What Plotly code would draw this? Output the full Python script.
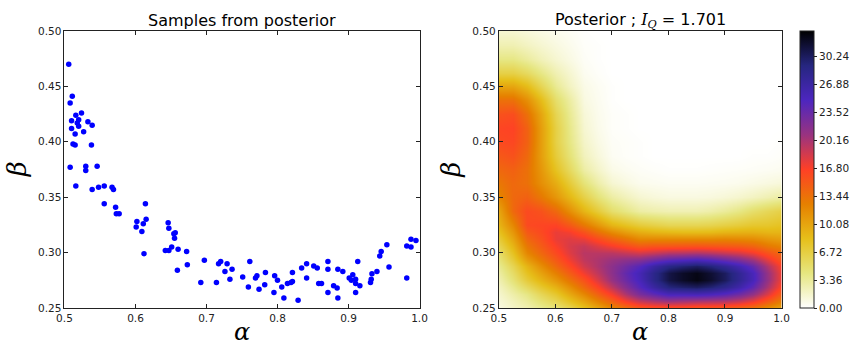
import plotly.graph_objects as go

# ---------------- data ----------------
alpha_samples = [0.506, 0.511, 0.508, 0.516, 0.524, 0.510, 0.520, 0.518, 0.520, 0.533, 0.539, 0.510, 0.527, 0.515,
                 0.512, 0.515, 0.538, 0.508, 0.530, 0.530, 0.546, 0.516, 0.539, 0.548, 0.556, 0.567, 0.569, 0.556,
                 0.572, 0.573, 0.577, 0.614, 0.602, 0.615, 0.611, 0.601, 0.609, 0.612, 0.646, 0.647, 0.656, 0.654,
                 0.655, 0.651, 0.642, 0.647, 0.660, 0.659, 0.672, 0.673, 0.692, 0.697, 0.714, 0.717, 0.720, 0.726,
                 0.729, 0.736, 0.733, 0.751, 0.759, 0.761, 0.769, 0.771, 0.774, 0.782, 0.783, 0.795, 0.796, 0.800,
                 0.806, 0.809, 0.814, 0.819, 0.821, 0.821, 0.829, 0.834, 0.841, 0.841, 0.851, 0.856, 0.858, 0.862,
                 0.871, 0.871, 0.871, 0.879, 0.884, 0.885, 0.885, 0.892, 0.901, 0.904, 0.906, 0.910, 0.910, 0.910,
                 0.913, 0.916, 0.931, 0.932, 0.933, 0.940, 0.944, 0.946, 0.954, 0.957, 0.982, 0.982, 0.988, 0.988,
                 0.995]
beta_samples = [0.470, 0.441, 0.435, 0.424, 0.426, 0.419, 0.420, 0.417, 0.414, 0.418, 0.415, 0.412, 0.409, 0.407,
                0.398, 0.397, 0.397, 0.377, 0.378, 0.374, 0.378, 0.360, 0.357, 0.359, 0.360, 0.359, 0.357, 0.344,
                0.341, 0.335, 0.335, 0.344, 0.328, 0.330, 0.326, 0.323, 0.319, 0.299, 0.327, 0.322, 0.318, 0.317,
                0.313, 0.305, 0.302, 0.302, 0.303, 0.284, 0.301, 0.289, 0.273, 0.293, 0.273, 0.290, 0.292, 0.283,
                0.290, 0.285, 0.276, 0.278, 0.269, 0.292, 0.277, 0.279, 0.267, 0.271, 0.282, 0.264, 0.279, 0.275,
                0.269, 0.259, 0.272, 0.273, 0.274, 0.282, 0.257, 0.286, 0.290, 0.277, 0.288, 0.286, 0.272, 0.272,
                0.292, 0.285, 0.264, 0.270, 0.268, 0.259, 0.285, 0.283, 0.277, 0.275, 0.280, 0.276, 0.272, 0.264,
                0.292, 0.270, 0.273, 0.276, 0.281, 0.283, 0.297, 0.301, 0.307, 0.287, 0.306, 0.277, 0.312, 0.305,
                0.311]

alpha_grid = [0.500, 0.525, 0.550, 0.575, 0.600, 0.625, 0.650, 0.675, 0.700, 0.725, 0.750,
              0.775, 0.800, 0.825, 0.850, 0.875, 0.900, 0.925, 0.950, 0.975, 1.000]
beta_grid_low = [0.25, 0.25625, 0.2625, 0.26875, 0.275, 0.28125, 0.2875, 0.29375, 0.30,
                 0.30625, 0.3125, 0.31875, 0.325]
beta_grid_high = [0.3375, 0.35, 0.3625, 0.375, 0.3875, 0.40, 0.4125, 0.425, 0.4375,
                  0.45, 0.4625, 0.475, 0.4875, 0.50]

# lower band: one list per alpha column (values from beta=0.25 up to beta=0.325)
posterior_low_cols = [
    [1.0, 1.3, 1.6, 2.0, 2.5, 3.0, 3.6, 4.3, 5.0, 6.0, 7.0, 8.0, 9.0],
    [1.8, 2.2, 2.8, 3.6, 4.5, 5.2, 6.0, 7.0, 8.0, 9.0, 10.0, 11.0, 12.0],
    [2.5, 3.2, 4.0, 5.5, 7.0, 8.0, 9.0, 10.5, 12.0, 13.0, 14.0, 15.0, 16.0],
    [3.5, 4.6, 5.8, 7.4, 9.0, 10.2, 11.5, 12.8, 14.0, 14.8, 15.5, 16.0, 16.3],
    [4.5, 6.0, 7.5, 9.2, 11.0, 12.5, 14.0, 15.0, 16.0, 16.8, 17.5, 17.5, 16.5],
    [6.0, 8.0, 9.8, 11.5, 13.3, 14.8, 16.2, 17.2, 18.0, 18.3, 18.0, 17.0, 15.0],
    [8.0, 10.0, 12.0, 14.0, 15.5, 17.2, 18.5, 19.2, 19.5, 19.0, 17.5, 15.5, 13.0],
    [10.0, 12.3, 14.5, 16.5, 18.2, 19.3, 20.0, 20.0, 19.5, 18.0, 16.0, 13.5, 11.0],
    [12.0, 14.5, 17.0, 19.3, 21.0, 21.5, 21.5, 20.8, 19.5, 17.0, 14.5, 11.8, 9.0],
    [13.5, 17.0, 20.0, 22.0, 23.3, 23.8, 23.0, 21.5, 19.0, 16.0, 13.3, 10.5, 8.0],
    [15.0, 19.0, 22.5, 24.5, 25.5, 25.8, 24.5, 22.0, 18.5, 15.0, 12.0, 9.5, 7.0],
    [15.5, 20.0, 24.0, 27.0, 28.5, 28.5, 26.8, 23.2, 19.0, 15.3, 12.0, 9.0, 6.5],
    [15.5, 20.8, 25.5, 29.2, 31.0, 31.0, 28.7, 24.4, 19.7, 15.3, 12.0, 8.7, 6.0],
    [15.5, 20.5, 25.5, 29.8, 32.0, 32.0, 29.5, 25.0, 19.8, 15.4, 12.0, 8.5, 6.0],
    [15.0, 20.2, 25.7, 30.2, 32.7, 32.6, 30.1, 25.5, 20.0, 15.5, 12.0, 8.5, 6.0],
    [15.0, 20.0, 25.3, 29.5, 31.8, 31.6, 29.2, 24.8, 19.6, 15.3, 12.0, 8.6, 6.2],
    [14.8, 19.8, 24.5, 28.3, 30.3, 30.2, 27.8, 23.7, 19.0, 15.1, 12.2, 9.0, 6.6],
    [14.2, 19.0, 23.2, 26.5, 28.0, 27.9, 26.0, 22.5, 18.4, 14.9, 12.0, 9.2, 7.0],
    [13.3, 17.5, 21.2, 24.0, 25.5, 25.4, 23.7, 20.8, 17.3, 14.3, 11.8, 9.3, 7.5],
    [11.5, 15.0, 18.0, 20.0, 21.0, 20.9, 19.8, 17.8, 15.5, 13.0, 11.0, 9.0, 7.6],
    [10.0, 12.5, 14.5, 16.2, 17.0, 17.0, 16.5, 15.2, 14.0, 12.2, 10.5, 9.0, 8.0],
]
# upper part: one list per beta row (alpha 0.5 -> 1.0)
posterior_high_rows = [
    [10.0, 14.0, 16.0, 15.5, 14.0, 11.5, 9.0, 7.0, 5.0, 4.0, 3.0, 2.7, 2.5, 2.5, 2.5, 2.8, 3.3, 4.0, 5.0, 5.8, 6.5],
    [12.0, 14.0, 14.5, 13.0, 11.0, 8.8, 6.5, 4.5, 3.0, 2.2, 1.5, 1.2, 1.0, 1.0, 1.0, 1.1, 1.3, 1.6, 2.0, 2.5, 3.0],
    [13.0, 14.0, 13.5, 11.5, 9.5, 7.0, 4.5, 2.8, 1.5, 1.0, 0.6, 0.5, 0.4, 0.4, 0.4, 0.45, 0.5, 0.6, 0.8, 1.0, 1.2],
    [14.0, 14.5, 13.5, 11.0, 8.0, 5.5, 3.0, 1.8, 0.8, 0.5, 0.3, 0.2, 0.1, 0.1, 0.1, 0.15, 0.2, 0.25, 0.3, 0.4, 0.5],
    [15.0, 15.5, 14.0, 10.5, 7.0, 4.5, 2.2, 1.2, 0.4, 0.2, 0.1, 0.0, 0.0, 0.0, 0.0, 0.0, 0.0, 0.0, 0.1, 0.1, 0.2],
    [16.0, 16.2, 14.5, 10.5, 6.5, 4.0, 1.8, 0.9, 0.3, 0.2, 0.1, 0.0, 0.0, 0.0, 0.0, 0.0, 0.0, 0.0, 0.0, 0.0, 0.1],
    [16.3, 16.5, 14.5, 10.5, 6.5, 3.8, 1.5, 0.7, 0.2, 0.1, 0.0, 0.0, 0.0, 0.0, 0.0, 0.0, 0.0, 0.0, 0.0, 0.0, 0.0],
    [15.5, 15.8, 13.5, 10.0, 6.0, 3.5, 1.3, 0.6, 0.2, 0.1, 0.0, 0.0, 0.0, 0.0, 0.0, 0.0, 0.0, 0.0, 0.0, 0.0, 0.0],
    [13.5, 13.5, 11.5, 8.5, 5.0, 3.0, 1.0, 0.5, 0.1, 0.0, 0.0, 0.0, 0.0, 0.0, 0.0, 0.0, 0.0, 0.0, 0.0, 0.0, 0.0],
    [10.0, 10.0, 8.5, 6.0, 3.5, 2.0, 0.8, 0.4, 0.1, 0.0, 0.0, 0.0, 0.0, 0.0, 0.0, 0.0, 0.0, 0.0, 0.0, 0.0, 0.0],
    [6.5, 6.5, 5.5, 4.0, 2.5, 1.5, 0.5, 0.2, 0.0, 0.0, 0.0, 0.0, 0.0, 0.0, 0.0, 0.0, 0.0, 0.0, 0.0, 0.0, 0.0],
    [4.0, 4.0, 3.2, 2.3, 1.5, 0.9, 0.3, 0.1, 0.0, 0.0, 0.0, 0.0, 0.0, 0.0, 0.0, 0.0, 0.0, 0.0, 0.0, 0.0, 0.0],
    [2.5, 2.5, 2.0, 1.5, 1.0, 0.6, 0.2, 0.1, 0.0, 0.0, 0.0, 0.0, 0.0, 0.0, 0.0, 0.0, 0.0, 0.0, 0.0, 0.0, 0.0],
    [1.5, 1.5, 1.2, 0.9, 0.6, 0.35, 0.1, 0.0, 0.0, 0.0, 0.0, 0.0, 0.0, 0.0, 0.0, 0.0, 0.0, 0.0, 0.0, 0.0, 0.0],
]
cbar_ticks = [0.00, 3.36, 6.72, 10.08, 13.44, 16.80, 20.16, 23.52, 26.88, 30.24]
x_ticks = [0.5, 0.6, 0.7, 0.8, 0.9, 1.0]
y_ticks = [0.25, 0.30, 0.35, 0.40, 0.45, 0.50]

# assemble the grid (rows = beta, columns = alpha)
beta_grid = beta_grid_low + beta_grid_high
posterior = [list(r) for r in zip(*posterior_low_cols)] + posterior_high_rows

# ---------------- figure ----------------
W, H = 851, 347
def px(x):
    return x / W
def py(y):
    return 1 - y / H

cmr_r = [
    [0.0, 'rgb(255,255,255)'], [0.125, 'rgb(230,230,128)'], [0.25, 'rgb(230,191,26)'],
    [0.375, 'rgb(230,128,0)'], [0.5, 'rgb(255,64,38)'], [0.625, 'rgb(153,51,128)'],
    [0.75, 'rgb(77,38,191)'], [0.875, 'rgb(38,38,128)'], [1.0, 'rgb(0,0,0)'],
]

fig = go.Figure()
fig.add_trace(go.Scatter(x=alpha_samples, y=beta_samples, mode='markers',
                         marker=dict(color='#0000ff', size=5.5, line=dict(width=0)),
                         xaxis='x', yaxis='y', showlegend=False))
fig.add_trace(go.Heatmap(x=alpha_grid, y=beta_grid, z=posterior, zsmooth='best',
                         colorscale=cmr_r, zmin=0, zmax=33.3,
                         xaxis='x2', yaxis='y2',
                         colorbar=dict(x=px(807), xanchor='left', y=py(169.5), yanchor='middle',
                                       thickness=14, len=277 / H, lenmode='fraction',
                                       outlinecolor='#222', outlinewidth=1,
                                       tickvals=cbar_ticks, ticktext=['%.2f' % v for v in cbar_ticks],
                                       ticks='outside', ticklen=3, tickcolor='#222',
                                       tickfont=dict(family='DejaVu Sans', size=10.5, color='#222'),
                                       xpad=0, ypad=0)))

axis_common = dict(showline=True, linecolor='#222', linewidth=1, mirror='ticks',
                   ticks='inside', ticklen=4, tickcolor='#222', showgrid=False, zeroline=False,
                   automargin=False,
                   tickfont=dict(family='DejaVu Sans', size=10.5, color='#222'))

ydom = [py(308), py(31)]
fig.update_layout(
    width=W, height=H, margin=dict(l=0, r=0, t=0, b=0),
    paper_bgcolor='white', plot_bgcolor='white',
    xaxis=dict(domain=[px(65), px(423)], range=[0.5, 1.0], tickvals=x_ticks, tickformat='.1f',
               anchor='y', **axis_common),
    yaxis=dict(domain=ydom, range=[0.25, 0.5], tickvals=y_ticks, tickformat='.2f',
               anchor='x', **axis_common),
    xaxis2=dict(domain=[px(503), px(788)], range=[0.5, 1.0], tickvals=x_ticks, tickformat='.1f',
                anchor='y2', **axis_common),
    yaxis2=dict(domain=ydom, range=[0.25, 0.5], tickvals=y_ticks, tickformat='.2f',
                anchor='x2', **axis_common),
)

ann = []
ann.append(dict(text='Samples from posterior', x=px(244), y=py(20), xref='paper', yref='paper',
                showarrow=False, xanchor='center', yanchor='middle',
                font=dict(family='DejaVu Sans', size=16, color='#000')))
ann.append(dict(text="Posterior ; <span style=\"font-family:'DejaVu Serif'\"><i>I</i><sub><i>Q</i></sub> = </span>1.701",
                x=px(645.5), y=py(20), xref='paper', yref='paper',
                showarrow=False, xanchor='center', yanchor='middle',
                font=dict(family='DejaVu Serif' if False else 'DejaVu Sans', size=16, color='#000')))
for xc in (244, 645.5):
    ann.append(dict(text='<i>α</i>', x=px(xc), y=0, xref='paper', yref='paper',
                    showarrow=False, xanchor='center', yanchor='bottom', borderpad=0,
                    font=dict(family='DejaVu Serif', size=24, color='#000')))
for xc in (17, 454):
    ann.append(dict(text='<i>β</i>', x=px(xc), y=py(169.5), xref='paper', yref='paper',
                    showarrow=False, xanchor='center', yanchor='middle', textangle=-90,
                    font=dict(family='DejaVu Serif', size=26, color='#000')))
fig.update_layout(annotations=ann)

fig.write_html('out.html')
